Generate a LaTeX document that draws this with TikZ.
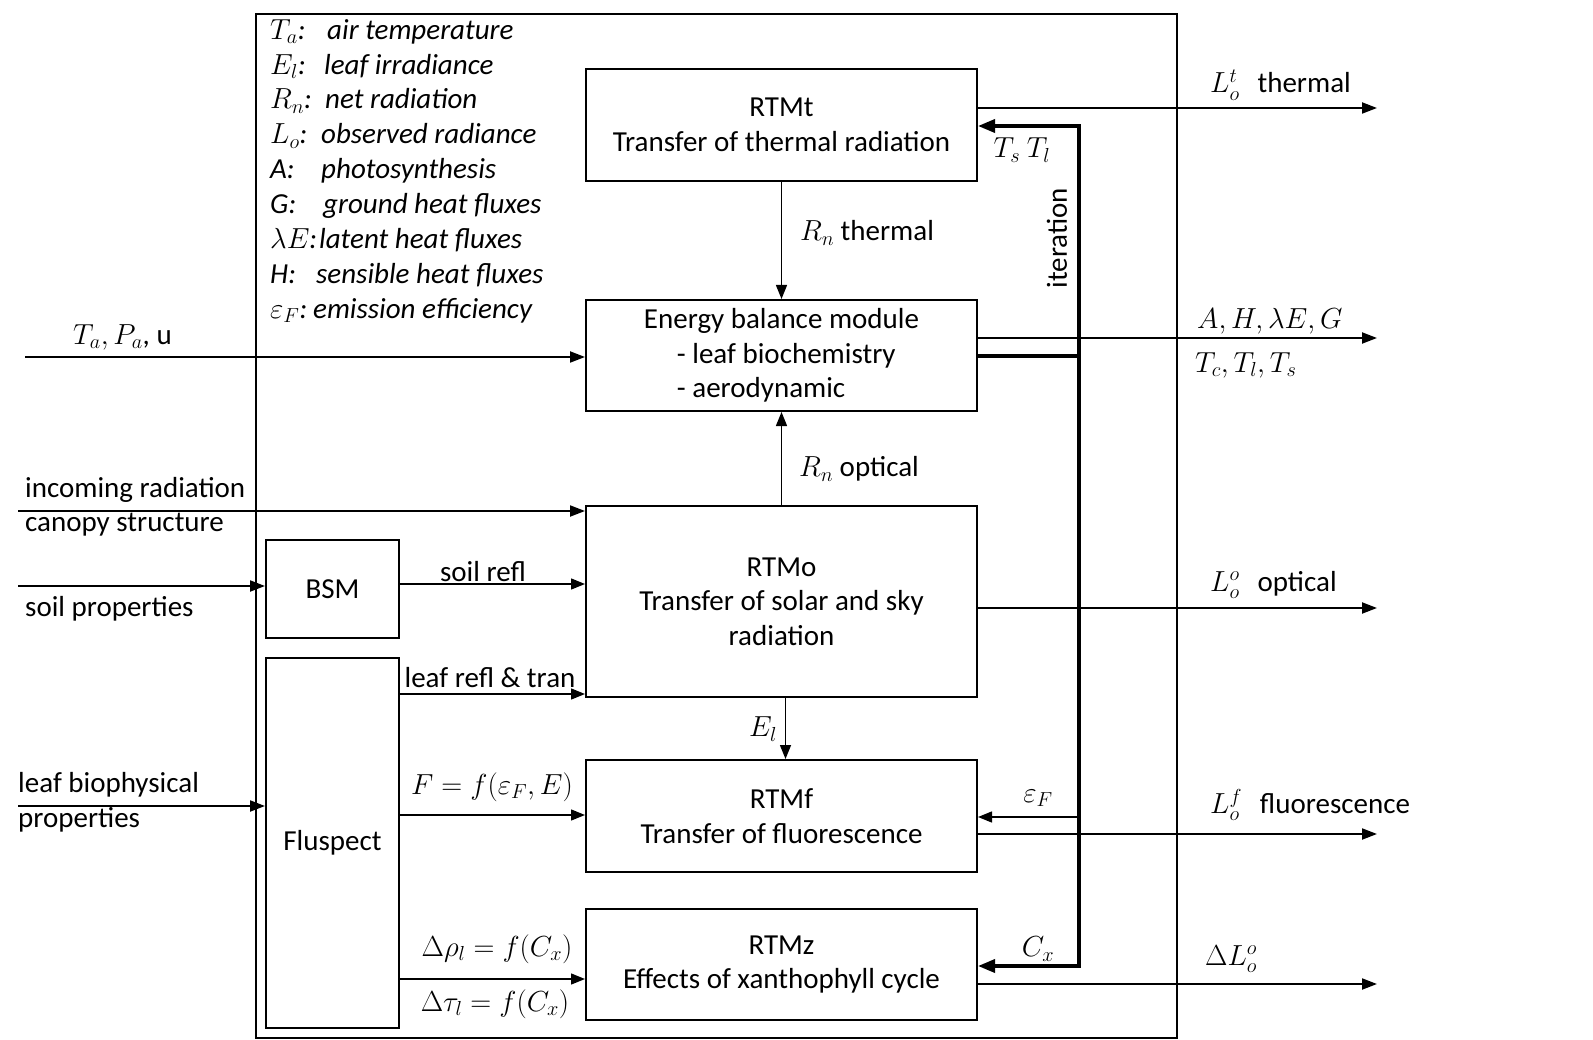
\documentclass[tikz,border=0pt]{standalone}
\usepackage{fix-cm}
\usepackage{amsmath}
\usepackage{fontspec}
\setmainfont{Carlito}
\usetikzlibrary{arrows.meta,positioning,calc}

\tikzset{
  block/.style={draw,line width=2pt,minimum width=391pt,align=center,inner sep=0pt},
  sidebox/.style={draw,line width=2pt,minimum width=133pt,align=center,inner sep=0pt},
  arr/.style={line width=1.4pt,-{Triangle[length=14pt,width=11pt]}},
  outarr/.style={line width=2pt,-{Triangle[length=15pt,width=11pt]}},
  fbline/.style={line width=3.5pt},
  fbarrow/.style={line width=3.5pt,-{Triangle[length=17pt,width=13pt]}},
  lbl/.style={inner sep=0pt,yshift=-2pt},
}

\begin{document}
\begin{tikzpicture}[x=1pt,y=-1pt,font=\fontsize{29}{34.5}\selectfont]
  \useasboundingbox (0,0) rectangle (1593,1040);
  % Frame
  \draw[line width=2.5pt] (256,14) rectangle (1177,1038);
  % Legend
  \node[lbl,anchor=north west,align=left,font=\fontsize{29}{34.9}\selectfont\itshape] (legend) at (270,17) {%
    \makebox[57pt][l]{$T_a$:}air temperature\\
    \makebox[54pt][l]{$E_l$:}leaf irradiance\\
    \makebox[55pt][l]{$R_n$:}net radiation\\
    \makebox[51pt][l]{$L_o$:}observed radiance\\
    \makebox[51pt][l]{A:}photosynthesis\\
    \makebox[53pt][l]{G:}ground heat fluxes\\
    \makebox[49pt][l]{$\lambda E$:}latent heat fluxes\\
    \makebox[46pt][l]{H:}sensible heat fluxes\\
    \makebox[43pt][l]{$\varepsilon_F$:}emission efficiency};
  % Modules
  \node[block,minimum height=112pt] (rtmt) at (781.5,125) {RTMt\\Transfer of thermal radiation};
  \node[block,minimum height=111pt,align=left] (ebm) at (781.5,355.5)
    {Energy balance module\\\hspace*{33pt}- leaf biochemistry\\\hspace*{33pt}- aerodynamic};
  \node[block,minimum height=191pt] (rtmo) at (781.5,601.5) {RTMo\\Transfer of solar and sky\\radiation};
  \node[block,minimum height=112pt] (rtmf) at (781.5,816) {RTMf\\Transfer of fluorescence};
  \node[block,minimum height=111pt] (rtmz) at (781.5,964.5) {RTMz\\Effects of xanthophyll cycle};
  \node[sidebox,minimum height=98pt] (bsm) at (332.5,589) {BSM};
  \node[sidebox,minimum height=370pt] (flu) at (332.5,843) {Fluspect};

  % Between modules
  \draw[arr] (rtmt.south) -- (ebm.north);
  \draw[arr] (rtmo.north) -- (ebm.south);
  \draw[arr] ([xshift=4pt]rtmo.south) -- ([xshift=4pt]rtmf.north);
  \node[lbl,anchor=west] (rnth) at (800,231) {$R_n$ thermal};
  \node[lbl,anchor=west] (rnop) at (799,467) {$R_n$ optical};
  \node[lbl] (elf) at (763,727) {$E_l$};

  \draw[arr] (bsm.east |- 0,584) -- (rtmo.west |- 0,584);
  \draw[arr] (flu.east |- 0,694) -- (rtmo.west |- 0,694);
  \draw[arr] (flu.east |- 0,815) -- (rtmf.west |- 0,815);
  \draw[arr] (flu.east |- 0,979) -- (rtmz.west |- 0,979);
  \node[lbl] (soilrefl) at (483,570) {soil refl};
  \node[lbl] (leafrefl) at (490,676) {leaf refl \& tran};
  \node[lbl] (ffun) at (492,785) {$F = f(\varepsilon_F, E)$};
  \node[lbl] (drho) at (497,947) {$\Delta\rho_l = f(C_x)$};
  \node[lbl] (dtau) at (495,1002) {$\Delta\tau_l = f(C_x)$};

  % Iteration loop
  \coordinate (lp) at (1079,356);
  \coordinate (lpt) at (1079,126);
  \coordinate (lpf) at (1079,817);
  \coordinate (lpb) at (1079,966);
  \draw[fbline] (ebm.east |- lp) -- (lp);
  \draw[fbarrow] (lp) -- (lpt) -- (rtmt.east |- lpt);
  \draw[fbarrow] (lp) -- (lpb) -- (rtmz.east |- lpb);
  \draw[arr] (lpf) -- (rtmf.east |- lpf);
  \node[lbl] (tstl) at (1022,148) {$T_s\ T_l$};
  \node[lbl,rotate=90] (iter) at (1057,236) {iteration};
  \node[lbl] (epsf) at (1038,796) {$\varepsilon_F$};
  \node[lbl] (cx) at (1038,947) {$C_x$};

  % Outputs
  \coordinate (oT) at (1377,108);
  \coordinate (oE) at (1377,338);
  \coordinate (oO) at (1377,608);
  \coordinate (oF) at (1377,834);
  \coordinate (oZ) at (1377,984);
  \draw[outarr] (rtmt.east |- oT) -- (oT);
  \draw[outarr] (ebm.east |- oE) -- (oE);
  \draw[outarr] (rtmo.east |- oO) -- (oO);
  \draw[outarr] (rtmf.east |- oF) -- (oF);
  \draw[outarr] (rtmz.east |- oZ) -- (oZ);
  \node[lbl,anchor=west] (lot) at (1210,83) {$L_o^t$\hspace{18pt}thermal};
  \node[lbl,anchor=west] (flux) at (1197,319) {$A, H, \lambda E, G$};
  \node[lbl,anchor=west] (temps) at (1195,363) {$T_c, T_l, T_s$};
  \node[lbl,anchor=west] (loo) at (1210,583) {$L_o^o$\hspace{18pt}optical};
  \node[lbl,anchor=west] (lof) at (1210,803) {$L_o^f$\hspace{18pt}fluorescence};
  \node[lbl,anchor=west] (dlo) at (1205,957) {$\Delta L_o^o$};

  % Inputs
  \coordinate (iMet) at (25,357);
  \coordinate (iRad) at (18,511);
  \coordinate (iSoil) at (18,586);
  \coordinate (iLeaf) at (18,806);
  \draw[outarr] (iMet) -- (ebm.west |- iMet);
  \draw[outarr] (iRad) -- (rtmo.west |- iRad);
  \draw[outarr] (iSoil) -- (bsm.west |- iSoil);
  \draw[outarr] (iLeaf) -- (flu.west |- iLeaf);
  \node[lbl,anchor=west] (met) at (73,335) {$T_a, P_a$, u};
  \node[lbl,anchor=west] (inrad) at (25,488) {incoming radiation};
  \node[lbl,anchor=west] (canopy) at (25,523) {canopy structure};
  \node[lbl,anchor=west] (soilp) at (25,607) {soil properties};
  \node[lbl,anchor=west] (leafbio) at (18,783) {leaf biophysical};
  \node[lbl,anchor=west] (leafprop) at (18,818) {properties};
\end{tikzpicture}
\end{document}
